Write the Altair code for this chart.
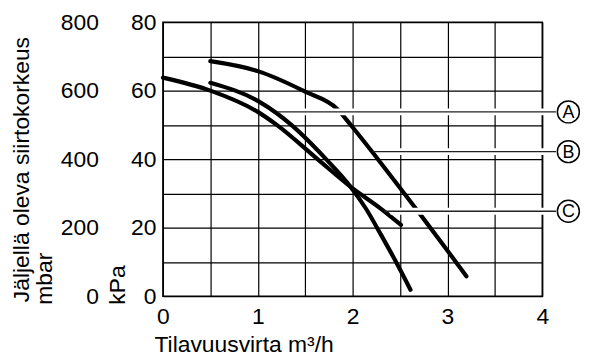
import altair as alt
import pandas as pd

# ---- data ----
flow_A = [0.5, 1.0, 1.2, 1.354, 1.72, 1.98, 2.14, 2.30, 2.45, 2.61]
kpa_A = [62.3, 57.0, 53.4, 50.0, 40.0, 31.9, 25.6, 17.9, 10.4, 1.9]

flow_B = [0.5, 1.0, 1.5, 1.84, 2.0, 2.21, 2.44, 2.68, 2.95, 3.2]
kpa_B = [68.6, 65.7, 59.7, 54.6, 49.3, 42.0, 33.8, 25.1, 15.2, 5.8]

flow_C = [0.0, 0.5, 1.0, 1.2, 1.63, 1.98, 2.30, 2.51]
kpa_C = [63.8, 60.0, 53.8, 50.0, 40.0, 31.9, 25.5, 20.8]

labels = ["A", "B", "C"]
leader_start = [1.21, 2.21, 2.33]
leader_kpa = [53.8, 42.2, 24.8]

x_ticks = [0, 0.5, 1, 1.5, 2, 2.5, 3, 3.5, 4]
kpa_ticks = [0, 10, 20, 30, 40, 50, 60, 70, 80]
mbar_ticks = [0, 200, 400, 600, 800]

y_title_main = "Jäljellä oleva siirtokorkeus"
y_title_mbar = "mbar"
y_title_kpa = "kPa"
x_title = "Tilavuusvirta m³/h"

# ---- tables ----
rows = []
for name, fx, fy in (("A", flow_A, kpa_A), ("B", flow_B, kpa_B), ("C", flow_C, kpa_C)):
    for i, (a, b) in enumerate(zip(fx, fy)):
        rows.append({"curve": name, "flow": a, "kpa": b, "order": i})
curves = pd.DataFrame(rows)

LEADER_END = 4.145
LABEL_X = 4.275
leaders = pd.DataFrame({
    "label": labels,
    "start": leader_start,
    "halo_start": [s + 0.07 for s in leader_start],
    "end": [LEADER_END] * 3,
    "label_x": [LABEL_X] * 3,
    "kpa": leader_kpa,
})
mbar_df = pd.DataFrame({"mbar": [mbar_ticks[0], mbar_ticks[-1]]})

FONT = "Liberation Sans"
FS = 23

x_scale = alt.Scale(domain=[0, 4], nice=False, zero=False)
kpa_scale = alt.Scale(domain=[0, 80], nice=False)

x_axis = alt.Axis(
    values=x_ticks,
    labelExpr="datum.value % 1 === 0 ? format(datum.value, 'd') : ''",
    grid=True, domain=False, ticks=False, tickSize=0, labelPadding=9,
    labelFlush=False,
    title=x_title, titleX=-9, titleY=56, titleAlign="left",
    titleBaseline="alphabetic", titleAngle=0,
)
kpa_axis = alt.Axis(
    values=kpa_ticks,
    labelExpr="datum.value % 20 === 0 ? format(datum.value, 'd') : ''",
    grid=True, domain=False, ticks=False, tickSize=0, labelPadding=7,
    labelFlush=False,
    title=y_title_kpa, titleX=-39, titleY=284, titleAngle=270, titleAlign="left",
    titleBaseline="alphabetic",
)

X = alt.X("flow:Q", scale=x_scale, axis=x_axis)
Y = alt.Y("kpa:Q", scale=kpa_scale, axis=kpa_axis)

lines = alt.Chart(curves).mark_line(
    color="black", strokeWidth=4.2, strokeCap="round", interpolate="monotone"
).encode(x=X, y=Y, detail="curve:N", order="order:Q")

halo = alt.Chart(leaders).mark_rule(color="white", strokeWidth=7).encode(
    x=alt.X("halo_start:Q", scale=x_scale, axis=x_axis), x2="end:Q", y=Y
)
leader = alt.Chart(leaders).mark_rule(color="#222222", strokeWidth=1.4).encode(
    x=alt.X("start:Q", scale=x_scale, axis=x_axis), x2="end:Q", y=Y
)
circles = alt.Chart(leaders).mark_point(
    shape="circle", size=490, fill="white", stroke="black", strokeWidth=1.5,
    opacity=1, filled=False,
).encode(x=alt.X("label_x:Q", scale=x_scale, axis=x_axis), y=Y)
texts = alt.Chart(leaders).mark_text(
    font=FONT, fontSize=18, color="black", align="center", baseline="middle", dy=1
).encode(x=alt.X("label_x:Q", scale=x_scale, axis=x_axis), y=Y, text="label:N")

main_title = alt.Chart(pd.DataFrame({"t": [y_title_main]})).mark_text(
    font=FONT, fontSize=FS, color="black", angle=270, align="left",
    baseline="alphabetic",
).encode(x=alt.value(-135), y=alt.value(282), text="t:N")

kpa_layers = alt.layer(lines, halo, leader, circles, texts, main_title)

mbar_layer = alt.Chart(mbar_df).mark_point(opacity=0).encode(
    y=alt.Y(
        "mbar:Q",
        scale=alt.Scale(domain=[0, 800], nice=False),
        axis=alt.Axis(
            orient="left", values=mbar_ticks, grid=False, domain=False,
            ticks=False, tickSize=0, labelPadding=65, labelFlush=False,
            title=y_title_mbar,
            titleX=-112, titleY=284, titleAngle=270, titleAlign="left",
            titleBaseline="alphabetic",
        ),
    )
)

chart = alt.layer(kpa_layers, mbar_layer).resolve_scale(y="independent").properties(
    width=382, height=276,
    background="white",
    autosize=alt.AutoSizeParams(type="none"),
    padding={"left": 156, "top": 13, "right": 40, "bottom": 61},
).configure_view(
    stroke="black", strokeWidth=1.5
).configure_axis(
    labelFont=FONT, labelFontSize=FS, labelColor="black",
    titleFont=FONT, titleFontSize=FS, titleFontWeight="normal", titleColor="black",
    gridColor="black", gridWidth=1.2, gridOpacity=1,
)

chart.save("out.html", embed_options={"renderer": "svg", "actions": False})
